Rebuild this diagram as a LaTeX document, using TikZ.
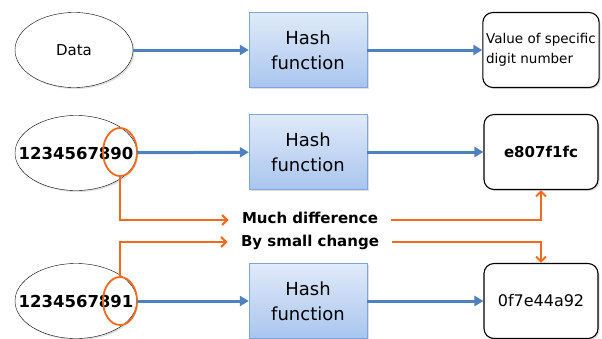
\documentclass[tikz,border=0pt]{standalone}
\usepackage{fontspec}
\setmainfont{DejaVu Sans}
\usetikzlibrary{shapes.geometric, arrows.meta, positioning, shadows}
\definecolor{flowblue}{HTML}{4F81BD}
\definecolor{boxedge}{HTML}{7FA6D8}
\definecolor{boxtop}{HTML}{E0EAF9}
\definecolor{boxbottom}{HTML}{A9C5EE}
\definecolor{markorange}{HTML}{F26B1D}

\tikzset{
  softshadow/.style={drop shadow={opacity=0.25, shadow xshift=1.5pt, shadow yshift=-1.5pt}},
  inputnode/.style={ellipse, draw, thin, fill=white, softshadow, inner sep=0pt,
    minimum width=122pt, minimum height=75pt, font=\bfseries\fontsize{16.5}{20}\selectfont},
  hashbox/.style={draw=boxedge, top color=boxtop, bottom color=boxbottom, softshadow,
    minimum width=118pt, minimum height=75pt, align=center, font=\fontsize{18}{25}\selectfont},
  resultbox/.style={draw, line width=1.1pt, rounded corners=10pt, fill=white, softshadow,
    minimum width=114pt, minimum height=75pt, align=center},
  markring/.style={ellipse, draw=markorange, line width=1.8pt, minimum width=34pt, minimum height=48pt},
  flow/.style={flowblue, line width=3pt, -{Triangle[length=9pt,width=10pt]}},
  change/.style={markorange, line width=2pt, -{Straight Barb[length=5pt,width=10pt]}},
  notetext/.style={font=\bfseries\fontsize{15}{18}\selectfont},
}
% number runs past the ellipse edge, as in the drawing
\newcommand{\overrun}[1]{\makebox[0pt]{#1}}

\begin{document}
\begin{tikzpicture}[x=1pt, y=-1pt]
\useasboundingbox (0,0) rectangle (602,338);

% top row
\node[inputnode, minimum width=118pt, font=\fontsize{15}{18}\selectfont] (data) at (74,50) {Data};
\node[hashbox] (hashA) at (308,50) {Hash\\function};
\node[resultbox, align=left, font=\fontsize{13.5}{20}\selectfont] (valA) at (541,50) {Value of specific\\digit number};

% middle row
\node[inputnode] (numB) at (76,153) {\overrun{1234567890}};
\node[hashbox] (hashB) at (308,152) {Hash\\function};
\node[resultbox, font=\bfseries\fontsize{15}{18}\selectfont] (resB) at (541,152) {e807f1fc};

% bottom row
\node[inputnode] (numC) at (76,301) {\overrun{1234567891}};
\node[hashbox] (hashC) at (308,301) {Hash\\function};
\node[resultbox, font=\fontsize{16}{19}\selectfont] (resC) at (541,301) {0f7e44a92};

% changed digit
\node[markring] (markB) at (120,152) {};
\node[markring] (markC) at (120,301) {};

\node[notetext] (much) at (310,218) {Much difference};
\node[notetext] (small) at (310,242) {By small change};

\foreach \a/\b in {data/hashA, hashA/valA, numB/hashB, hashB/resB, numC/hashC, hashC/resC}
  \draw[flow] (\a) -- (\b);

\draw[change] (markB.south) |- ([xshift=-10pt, yshift=-2pt]much.west);
\draw[change] (markC.north) |- ([xshift=-10pt]small.west);
\draw[change] ([xshift=10pt, yshift=-2pt]much.east) -| (resB.south);
\draw[change] ([xshift=10pt]small.east) -| (resC.north);
\end{tikzpicture}
\end{document}
